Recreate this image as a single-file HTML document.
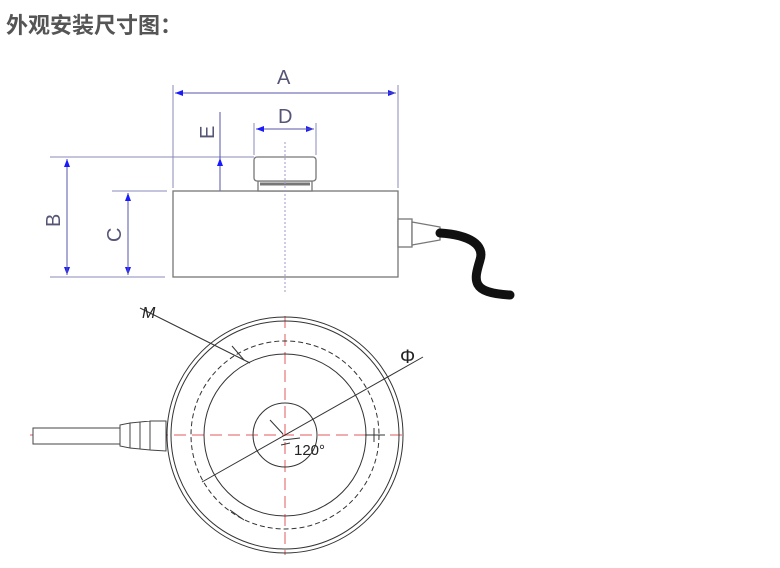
<!DOCTYPE html>
<html><head><meta charset="utf-8"><style>
body{margin:0;background:#fff;width:780px;height:568px;overflow:hidden;position:relative}
.t{position:absolute;left:6px;top:8px;font:bold 22px "Liberation Sans","Noto Sans CJK SC",sans-serif;color:#555}
svg{position:absolute;left:0;top:0}
</style></head><body>
<div class="t">外观安装尺寸图：</div>
<svg width="780" height="568" viewBox="0 0 780 568">
<defs><marker id="a" markerWidth="8" markerHeight="6" refX="8" refY="3" orient="auto"><path d="M0,0L8,3L0,6z" fill="#1a1aff"/></marker></defs>
<g stroke="#8888bb" stroke-width="1" fill="none">
<line x1="173" y1="85" x2="173" y2="188"/><line x1="398" y1="85" x2="398" y2="188"/>
<line x1="254" y1="123" x2="254" y2="155"/><line x1="316" y1="123" x2="316" y2="155"/>
<line x1="50" y1="157" x2="254" y2="157"/><line x1="50" y1="277" x2="165" y2="277"/>
<line x1="112" y1="191" x2="167" y2="191"/>
</g>
<g stroke="#5555aa" stroke-width="1" fill="none">
<line x1="175" y1="93" x2="396" y2="93" marker-end="url(#a)"/><line x1="396" y1="93" x2="175" y2="93" marker-end="url(#a)"/>
<line x1="256" y1="129" x2="314" y2="129" marker-end="url(#a)"/><line x1="314" y1="129" x2="256" y2="129" marker-end="url(#a)"/>
<line x1="220" y1="112" x2="220" y2="213"/>
<line x1="220" y1="180" x2="220" y2="158" marker-end="url(#a)"/><line x1="220" y1="200" x2="220" y2="192" marker-end="url(#a)"/>
<line x1="67" y1="159" x2="67" y2="275" marker-end="url(#a)"/><line x1="67" y1="275" x2="67" y2="159" marker-end="url(#a)"/>
<line x1="128" y1="193" x2="128" y2="275" marker-end="url(#a)"/><line x1="128" y1="275" x2="128" y2="193" marker-end="url(#a)"/>
</g>
<g font-family="Liberation Sans,sans-serif" font-size="20" fill="#555577">
<text x="277" y="84">A</text><text x="278" y="123">D</text>
<text transform="translate(214,139) rotate(-90)">E</text>
<text transform="translate(60,227) rotate(-90)">B</text>
<text transform="translate(121,242) rotate(-90)">C</text>
</g>
<g stroke="#777" stroke-width="1.3" fill="#fff">
<rect x="173" y="191" width="225" height="86"/>
<rect x="258" y="181" width="54" height="10"/>
<rect x="254" y="157" width="62" height="24" rx="3"/>
<rect x="398" y="219" width="14" height="28"/>
<path d="M412,222L440,227L440,240L412,245z"/>
</g>
<line x1="260" y1="184" x2="310" y2="184" stroke="#777" stroke-width="3"/>
<path d="M440,233C470,235 485,245 480,260C474,280 470,293 510,295" stroke="#111" stroke-width="9" fill="none" stroke-linecap="round"/>
<line x1="285" y1="142" x2="285" y2="293" stroke="#9999cc" stroke-dasharray="2,2"/>
<g stroke="#d33" stroke-width="1" stroke-dasharray="12,6" opacity=".8">
<line x1="30" y1="435" x2="405" y2="435"/><line x1="285" y1="316" x2="285" y2="555"/>
</g>
<g fill="none" stroke="#333" stroke-width="1">
<circle cx="285" cy="435" r="118"/><circle cx="285" cy="435" r="114"/>
<circle cx="285" cy="435" r="94" stroke-dasharray="5,3"/>
<circle cx="285" cy="435" r="81"/><circle cx="285" cy="435" r="32"/>
<line x1="140" y1="308" x2="250" y2="363"/>
<line x1="202" y1="482" x2="423" y2="357"/>
<path d="M270,420L283,434 M283,440L300,438 M281,445L290,443"/>
<line x1="365" y1="435" x2="385" y2="435"/><line x1="374" y1="428" x2="374" y2="442"/>
<line x1="232" y1="346" x2="244" y2="360"/><line x1="230" y1="510" x2="244" y2="520"/>
</g>
<g stroke="#444" fill="#fff" stroke-width="1">
<rect x="33" y="428" width="88" height="16"/>
<path d="M120,425L130,423L130,448L120,446z M130,423L140,422L140,449L130,448z M140,422L150,421L150,450L140,449z M150,421L166,421L166,451L150,450z"/>
</g>
<g font-family="Liberation Sans,sans-serif" fill="#222">
<text x="294" y="455" font-size="15">120°</text>
<text x="142" y="318" font-size="16" font-style="italic">M</text>
<text x="400" y="363" font-size="19">Φ</text>
</g>
</svg>
</body></html>
